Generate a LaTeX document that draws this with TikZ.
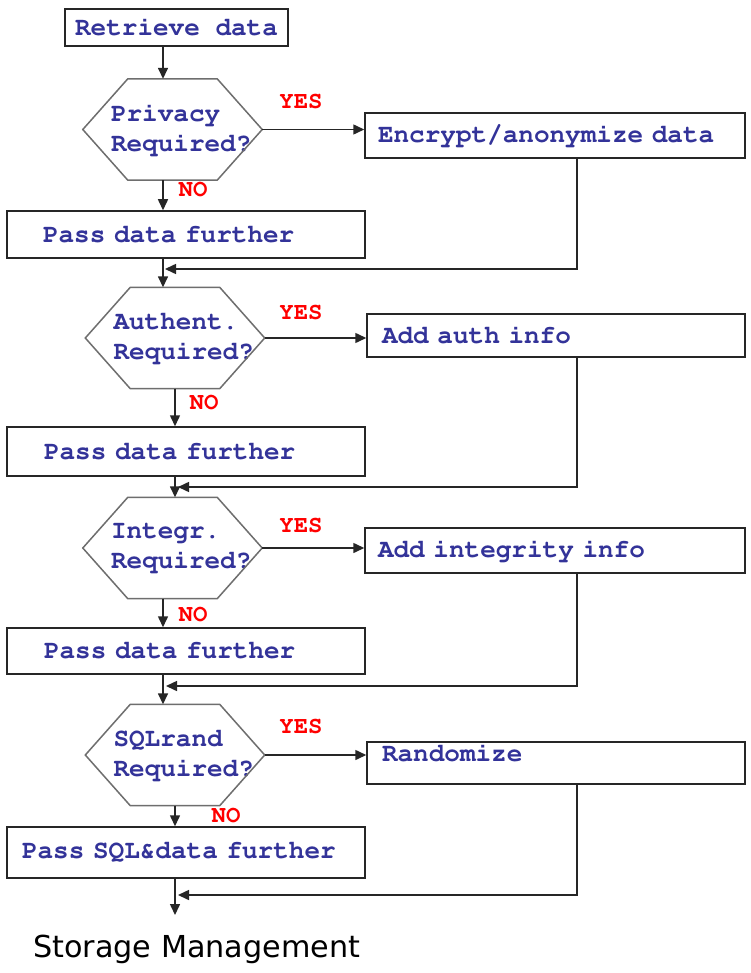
\documentclass[tikz,border=0pt]{standalone}
\usepackage[T1]{fontenc}
\usepackage{fontspec}
\newfontfamily\smfont{DejaVu Sans}
\newcommand\courb{\fontencoding{T1}\fontfamily{pcr}\fontseries{b}\fontshape{n}\selectfont}
\newcommand\courspace{\spaceskip=15.6pt\relax}
\usetikzlibrary{arrows.meta}
\definecolor{txtblue}{HTML}{333399}
\definecolor{linegray}{HTML}{262626}
\definecolor{hexgray}{HTML}{6E6E6E}
\definecolor{yesred}{HTML}{FF0000}
\newcommand\drawhex[1]{\draw[hexline] (#1.west) -- ([xshift=45pt]#1.north west) -- ([xshift=-45pt]#1.north east) -- (#1.east) -- ([xshift=-45pt]#1.south east) -- ([xshift=45pt]#1.south west) -- cycle;}
\newcommand\hexlines[2]{\hspace*{18.5pt}\mbox{#1}\\\hspace*{18.5pt}\mbox{#2}}
\tikzset{
 basetext/.style={font={\fontsize{26}{30}\courb\courspace}, text=txtblue},
 box/.style={basetext, draw=linegray, line width=1.5pt, rectangle, inner ysep=0pt, align=left},
 hexnode/.style={basetext, rectangle, minimum width=179pt, minimum height=101pt, inner sep=0pt, text width=160pt, align=left},
 hexline/.style={draw=hexgray, line width=1.5pt},
 conn/.style={draw=linegray, line width=1.5pt},
 arr/.style={conn, -{Triangle[length=11pt,width=10pt]}},
 yes/.style={font={\fontsize{24}{28}\courb}, text=yesred, inner sep=0pt},
}
\begin{document}
\begin{tikzpicture}[x=1pt,y=-1pt]
\fill[white] (0,0) rectangle (751,973);
\useasboundingbox (0,0) rectangle (751,973);

\node[box, minimum width=223pt, minimum height=37pt, align=center] (rd) at (176.5,27.5) {Retrieve data};
\node[hexnode] (h1) at (172.5,129.5) {\hexlines{Privacy}{Required?}};
\drawhex{h1}
\node[box, minimum width=380pt, minimum height=45pt, text width=354pt, inner xsep=13pt] (enc) at (555,135.5) {Encrypt/anonymize data};
\node[box, minimum width=358pt, minimum height=47pt, text width=286pt, inner xsep=36pt] (p1) at (186,234.5) {Pass data further};

\node[hexnode] (h2) at (175,338) {\hexlines{Authent.}{Required?}};
\drawhex{h2}
\node[box, minimum width=378pt, minimum height=43pt, text width=348pt, inner xsep=15pt] (auth) at (556,335.5) {Add auth info};
\node[box, minimum width=358pt, minimum height=49pt, text width=284pt, inner xsep=37pt] (p2) at (186,451.5) {Pass data further};

\node[hexnode] (h3) at (172.5,548) {\hexlines{Integr.}{Required?}};
\drawhex{h3}
\node[box, minimum width=380pt, minimum height=45pt, text width=354pt, inner xsep=13pt] (integ) at (555,550.5) {Add integrity info};
\node[box, minimum width=358pt, minimum height=46pt, text width=284pt, inner xsep=37pt] (p3) at (186,651) {Pass data further};

\node[hexnode] (h4) at (175,755) {\hexlines{SQLrand}{Required?}};
\drawhex{h4}
\node[box, minimum width=378pt, text width=348pt, inner xsep=15pt, text height=19pt, text depth=23pt] (rand) at (556,763) {Randomize};
\node[box, minimum width=358pt, minimum height=51pt, text width=328pt, inner xsep=15pt] (p4) at (186,852.5) {Pass SQL\&data further};

\node[anchor=base west, inner sep=0pt] (sm) at (33,957) {\resizebox{327pt}{!}{\smfont Storage Management}};

\node[yes] (y1) at (301,102) {YES};
\node[yes] (y2) at (301,313) {YES};
\node[yes] (y3) at (301,526) {YES};
\node[yes] (y4) at (301,727) {YES};
\node[yes] (n1) at (193,190) {NO};
\node[yes] (n2) at (204,403) {NO};
\node[yes] (n3) at (193,615) {NO};
\node[yes] (n4) at (226,816) {NO};

\coordinate (m1) at (165,269);
\coordinate (m2) at (178,487);
\coordinate (m3) at (166,686);
\coordinate (m4) at (178,895);
\coordinate (smtop) at (175,915);

\draw[arr] ([xshift=-9.5pt]h1.north |- rd.south) -- ([xshift=-9.5pt]h1.north);
\draw[arr] (h1.east) -- (h1.east -| enc.west);
\draw[arr] ([xshift=-9.5pt]h1.south) -- ([xshift=-9.5pt]h1.south |- p1.north);
\draw[arr] ([xshift=22pt]enc.south) |- (m1);
\draw[arr] ([xshift=-23pt]p1.south) -- ([xshift=-23pt]p1.south |- h2.north);

\draw[arr] (h2.east) -- (h2.east -| auth.west);
\draw[arr] (h2.south) -- (h2.south |- p2.north);
\draw[arr] ([xshift=21pt]auth.south) |- (m2);
\draw[arr] ([xshift=-11pt]p2.south) -- ([xshift=-11pt]p2.south |- h3.north);

\draw[arr] (h3.east) -- (h3.east -| integ.west);
\draw[arr] ([xshift=-9.5pt]h3.south) -- ([xshift=-9.5pt]h3.south |- p3.north);
\draw[arr] ([xshift=22pt]integ.south) |- (m3);
\draw[arr] ([xshift=-23pt]p3.south) -- ([xshift=-23pt]p3.south |- h4.north);

\draw[arr] (h4.east) -- (h4.east -| rand.west);
\draw[arr] (h4.south) -- (h4.south |- p4.north);
\draw[arr] ([xshift=21pt]rand.south) |- (m4);
\draw[arr] ([xshift=-11pt]p4.south) -- (smtop);
\end{tikzpicture}
\end{document}
